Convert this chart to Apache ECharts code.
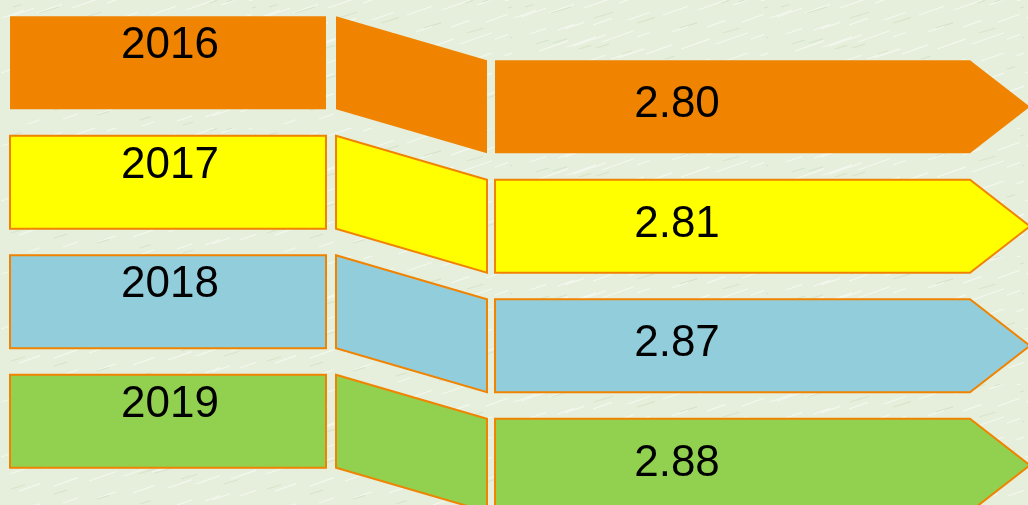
<!DOCTYPE html>
<html>
<head>
<meta charset="utf-8">
<script src="https://cdn.jsdelivr.net/npm/echarts@6/dist/echarts.min.js"></script>
<style>
html,body{margin:0;padding:0;background:#e8f0df;}
#c{width:1028px;height:505px;}
</style>
</head>
<body>
<div id="c"></div>
<script>
// ---- data ----
const years = ['2016', '2017', '2018', '2019'];
const values = [2.80, 2.81, 2.87, 2.88];

// ---- styles ----
const fillColors = ['#f08300', '#ffff00', '#92cddc', '#92d050'];
const borderColor = '#f08300';
const hasBorder = [false, true, true, true];
const labelFont = '44px "Liberation Sans", Arial, sans-serif';

// ---- layout (px along hidden x axis) ----
const L = {
  boxX0: 10, boxX1: 326,
  parX0: 336, parX1: 487,
  arrX0: 495, arrTip0: 970, arrTip1: 1030,
  boxH: 93, drop: 44,
  yearDy: 30, valDy: 45,
  yearX: 170, valX: 677
};

// subtle parchment-like texture (deterministic streaks)
function makeTexture() {
  const c = document.createElement('canvas');
  c.width = 256; c.height = 128;
  const g = c.getContext('2d');
  g.fillStyle = '#e6efdc';
  g.fillRect(0, 0, c.width, c.height);
  g.strokeStyle = 'rgba(255,255,255,0.55)';
  g.lineWidth = 1.2;
  for (let k = 0; k < 60; k++) {
    const x = (k * 53) % 256;
    const y = (k * 29) % 128;
    const len = 12 + (k * 7) % 22;
    g.beginPath();
    g.moveTo(x, y);
    g.lineTo(x + len, y - len * 0.35);
    g.stroke();
  }
  g.strokeStyle = 'rgba(205,222,190,0.6)';
  for (let k = 0; k < 30; k++) {
    const x = (k * 71 + 13) % 256;
    const y = (k * 41 + 7) % 128;
    const len = 8 + (k * 5) % 14;
    g.beginPath();
    g.moveTo(x, y);
    g.lineTo(x + len, y - len * 0.3);
    g.stroke();
  }
  return c;
}

const chart = echarts.init(document.getElementById('c'), null, {renderer: 'canvas'});

function renderItem(params, api) {
  const idx = api.value(0);
  const cy = api.coord([0, idx])[1];
  const top = cy - L.boxH / 2;
  const aTop = top + L.drop;
  const X = v => api.coord([v, idx])[0];
  const fill = fillColors[idx];
  const stroke = hasBorder[idx] ? borderColor : null;
  const lw = hasBorder[idx] ? 2 : 0;
  const style = {fill: fill, stroke: stroke, lineWidth: lw};
  return {
    type: 'group',
    children: [
      {type: 'rect', shape: {x: X(L.boxX0), y: top, width: X(L.boxX1) - X(L.boxX0), height: L.boxH}, style: style},
      {type: 'polygon', shape: {points: [
        [X(L.parX0), top], [X(L.parX1), aTop], [X(L.parX1), aTop + L.boxH], [X(L.parX0), top + L.boxH]
      ]}, style: style},
      {type: 'polygon', shape: {points: [
        [X(L.arrX0), aTop], [X(L.arrTip0), aTop], [X(L.arrTip1), aTop + L.boxH / 2],
        [X(L.arrTip0), aTop + L.boxH], [X(L.arrX0), aTop + L.boxH]
      ]}, style: style},
      {type: 'text', x: X(L.yearX), y: top + L.yearDy, style: {
        text: years[idx], fill: '#000', font: labelFont,
        textAlign: 'center', textVerticalAlign: 'middle'}},
      {type: 'text', x: X(L.valX), y: aTop + L.valDy, style: {
        text: api.value(1).toFixed(2), fill: '#000', font: labelFont,
        textAlign: 'center', textVerticalAlign: 'middle'}}
    ]
  };
}

chart.setOption({
  backgroundColor: {image: makeTexture(), repeat: 'repeat'},
  animation: false,
  grid: {left: 0, right: 0, top: 3, bottom: 24},
  xAxis: {type: 'value', min: 0, max: 1028, show: false},
  yAxis: {type: 'category', data: years, inverse: true, show: false},
  series: [{
    type: 'custom',
    renderItem: renderItem,
    clip: false,
    encode: {y: 0, x: 1},
    data: years.map((y, i) => [i, values[i]])
  }]
});
</script>
</body>
</html>
